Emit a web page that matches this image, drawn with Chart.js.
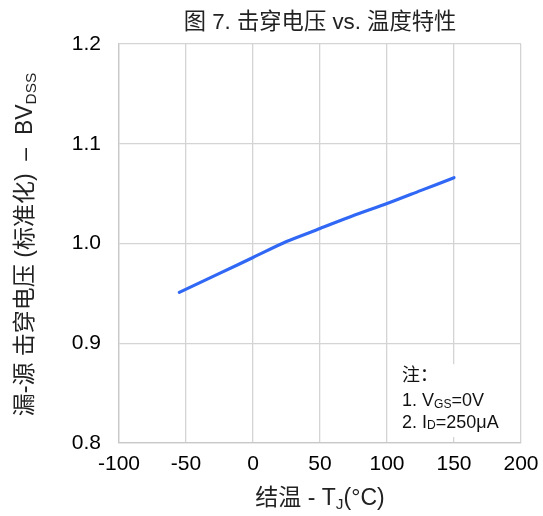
<!DOCTYPE html>
<html>
<head>
<meta charset="utf-8">
<script src="https://cdn.jsdelivr.net/npm/chart.js@4/dist/chart.umd.min.js"></script>
<style>
html,body{margin:0;padding:0;background:#fff;}
#wrap{width:543px;height:516px;}
</style>
</head>
<body>
<div id="wrap"><canvas id="c" width="543" height="516"></canvas></div>
<script>
const chartTitle = "图 7. 击穿电压 vs. 温度特性";
const temps = [-55, -25, 0, 25, 50, 75, 100, 125, 150];
const bvNorm = [0.951, 0.970, 0.986, 1.002, 1.015, 1.028, 1.040, 1.053, 1.066];
const xTitleParts = [["结温 - T", false], ["J", true], ["(°C)", false]];
const yTitleParts = [["漏-源 击穿电压 (标准化)  –  BV", false], ["DSS", true]];
const noteLines = [
  [["注：", false]],
  [["1. V", false], ["GS", true], ["=0V", false]],
  [["2. I", false], ["D", true], ["=250μA", false]]
];

const FONT = "'Liberation Sans', 'Noto Sans CJK SC', sans-serif";

function drawParts(ctx, parts, size, x, y, align, subDrop) {
  const subSize = Math.round(size * 0.67 * 10) / 10;
  let total = 0;
  const widths = parts.map(([t, sub]) => {
    ctx.font = (sub ? subSize : size) + "px " + FONT;
    const w = ctx.measureText(t).width;
    total += w;
    return w;
  });
  let cx = align === "center" ? x - total / 2 : x;
  ctx.textAlign = "left";
  ctx.textBaseline = "alphabetic";
  parts.forEach(([t, sub], i) => {
    ctx.font = (sub ? subSize : size) + "px " + FONT;
    ctx.fillText(t, cx, sub ? y + subDrop : y);
    cx += widths[i];
  });
}

const decor = {
  id: "decor",
  afterDraw(chart) {
    const ctx = chart.ctx;
    const xs = chart.scales.x, ys = chart.scales.y;
    const ca = chart.chartArea;
    const cxm = (ca.left + ca.right) / 2;
    ctx.save();
    // title
    ctx.fillStyle = "#222";
    ctx.font = "22.3px " + FONT;
    ctx.textAlign = "center";
    ctx.textBaseline = "alphabetic";
    ctx.fillText(chartTitle, cxm, 29);
    // note box
    const l = xs.getPixelForValue(103), r = xs.getPixelForValue(195);
    const t = ys.getPixelForValue(0.879), b = ys.getPixelForValue(0.806);
    ctx.fillStyle = "#fff";
    ctx.fillRect(l, t, r - l, b - t);
    ctx.fillStyle = "#111";
    const offs = [17, 42, 63.5];
    noteLines.forEach((ln, i) => drawParts(ctx, ln, 18, l + 11, t + offs[i], "left", 1.5));
    // x title
    ctx.fillStyle = "#222";
    drawParts(ctx, xTitleParts, 23, cxm, 505, "center", 4);
    // y title
    ctx.translate(32, (ca.top + ca.bottom) / 2 + 1);
    ctx.rotate(-Math.PI / 2);
    drawParts(ctx, yTitleParts, 23, 0, 0, "center", 4);
    ctx.restore();
  }
};

new Chart(document.getElementById("c"), {
  type: "line",
  data: {
    datasets: [{
      data: temps.map((t, i) => ({ x: t, y: bvNorm[i] })),
      borderColor: "#3068f5",
      borderWidth: 3.2,
      pointRadius: 0,
      fill: false,
      tension: 0.25,
      borderCapStyle: "round"
    }]
  },
  options: {
    responsive: false,
    animation: false,
    devicePixelRatio: 1,
    layout: { padding: { left: 0, right: 22, top: 44, bottom: 0 } },
    plugins: {
      legend: { display: false },
      tooltip: { enabled: false },
      title: { display: false }
    },
    scales: {
      x: {
        type: "linear",
        min: -100, max: 200,
        ticks: { stepSize: 50, color: "#000", padding: 9, maxRotation: 0,
                 font: { family: FONT, size: 21 } },
        grid: { color: "#d4d4d4", lineWidth: 1.3, drawTicks: false },
        border: { color: "#c8c8c8", width: 1.3 },
        afterFit(s) { s.height = 73; s.paddingLeft = 0; s.paddingRight = 0; }
      },
      y: {
        type: "linear",
        min: 0.8, max: 1.2,
        ticks: { stepSize: 0.1, color: "#000", padding: 18,
                 font: { family: FONT, size: 21 },
                 callback: v => v.toFixed(1) },
        grid: { color: "#d4d4d4", lineWidth: 1.3, drawTicks: false },
        border: { color: "#c8c8c8", width: 1.3 },
        afterFit(s) { s.width = 119; s.paddingTop = 0; s.paddingBottom = 0; }
      }
    }
  },
  plugins: [decor]
});
</script>
</body>
</html>
